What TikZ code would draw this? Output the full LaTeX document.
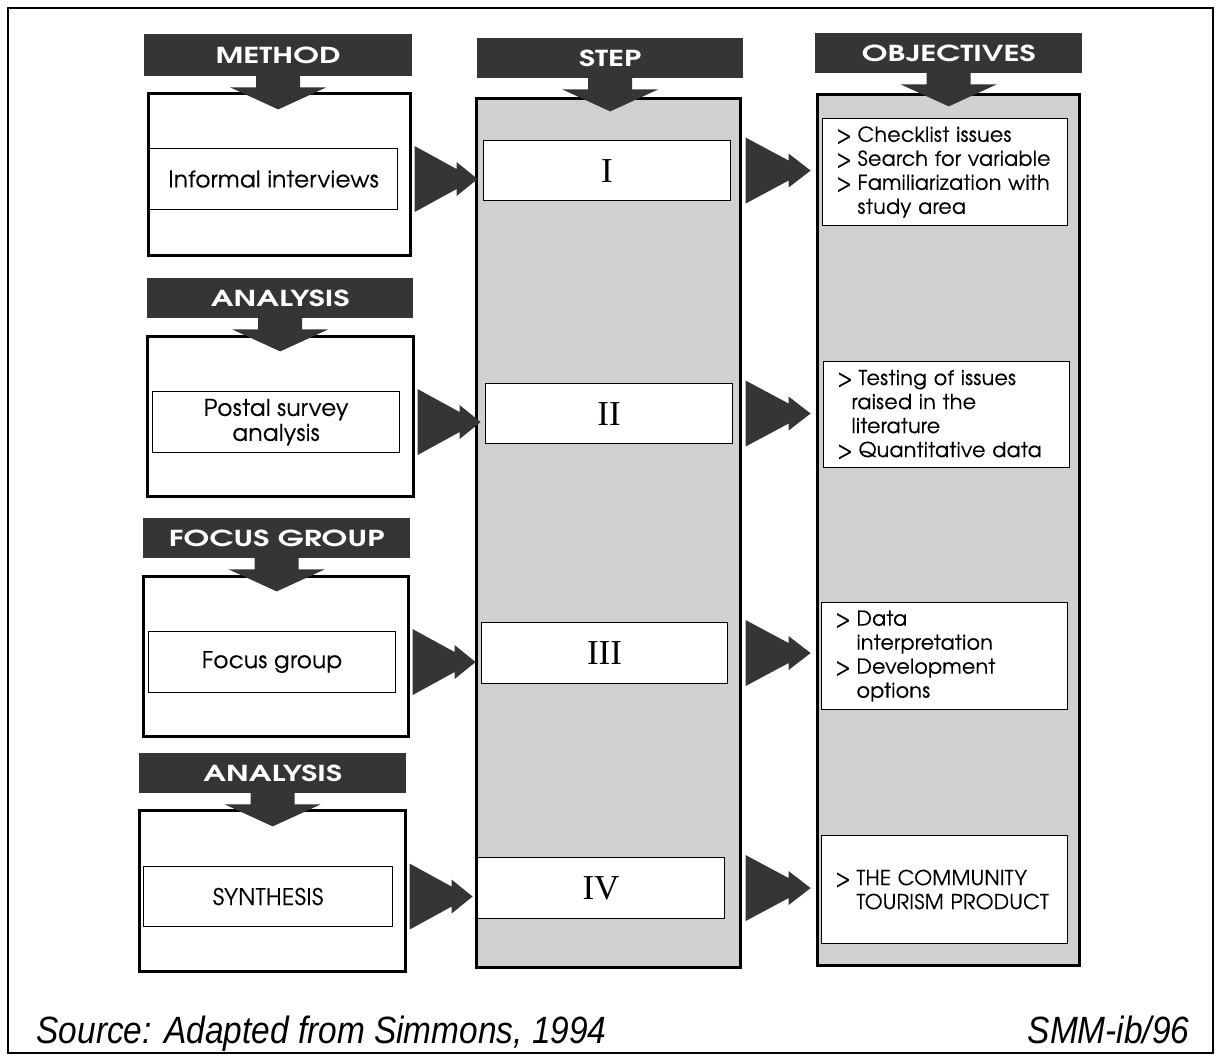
\documentclass[tikz,border=0pt]{standalone}
\usepackage{fontspec}
\usepackage{graphicx}
\usetikzlibrary{calc}
\newfontfamily\gothic{texgyreadventor}[Extension=.otf, UprightFont=*-regular, BoldFont=*-bold, FakeBold=0.35, LetterSpace=1.5]
\newfontfamily\hdfont{texgyreadventor}[Extension=.otf, UprightFont=*-bold, FakeStretch=1.4]
\newfontfamily\romfont{Liberation Serif}
\newfontfamily\capfont{Liberation Sans}
\definecolor{dk}{HTML}{353535}
\definecolor{shade}{HTML}{D0D0D0}
\newcommand\itm{\makebox[21pt][l]{>}}
\newcommand\cont{\hspace*{21pt}}
\begin{document}
\begin{tikzpicture}[x=1pt,y=-1pt,
  hdr/.style={fill=dk, inner sep=0pt, text=white, anchor=north west, font=\hdfont\fontsize{22}{26}\selectfont},
  outerbox/.style={draw=black, line width=2.6pt, fill=white, inner sep=0pt, anchor=north west},
  shadebox/.style={outerbox, fill=shade},
  innerbox/.style={draw=black, line width=1.1pt, fill=white, inner sep=0pt, anchor=north west, align=center, font=\gothic\fontsize{23}{25}\selectfont},
  romanbox/.style={innerbox, font=\romfont\fontsize{35}{36}\selectfont},
  objbox/.style={draw=black, line width=1.1pt, fill=white, inner ysep=0pt, inner xsep=14pt, anchor=north west, align=left, font=\gothic\fontsize{20.5}{24}\selectfont},
  arrowfill/.style={fill=dk},
  caption/.style={font=\capfont\itshape\fontsize{38}{40}\selectfont}
]
\useasboundingbox (0,0) rectangle (1218,1056);
\draw[line width=1.5pt] (8,8) rectangle (1213,1053);

% outer boxes
\node[outerbox, minimum width=262pt, minimum height=162pt] (B1) at (147,92) {};
\node[outerbox, minimum width=266pt, minimum height=160pt] (B2) at (146,335) {};
\node[outerbox, minimum width=265pt, minimum height=160pt] (B3) at (142,575) {};
\node[outerbox, minimum width=266pt, minimum height=161pt] (B4) at (138,809) {};
\node[shadebox, minimum width=264pt, minimum height=869pt] (BS) at (475,97) {};
\node[shadebox, minimum width=262pt, minimum height=871pt] (BO) at (816,93) {};

% inner boxes, left
\node[innerbox, minimum width=248pt, minimum height=61pt] (I1) at (149,148) {Informal interviews};
\node[innerbox, minimum width=247pt, minimum height=61pt] (I2) at (152,391) {Postal survey\\analysis};
\node[innerbox, minimum width=247pt, minimum height=61pt] (I3) at (148,631) {Focus group};
\node[innerbox, minimum width=249pt, minimum height=60pt] (I4) at (143,866) {SYNTHESIS};

% inner boxes, step
\node[romanbox, minimum width=247pt, minimum height=60pt] (S1) at (483,140) {I};
\node[romanbox, minimum width=247pt, minimum height=60pt] (S2) at (485,383) {II};
\node[romanbox, minimum width=246pt, minimum height=61pt] (S3) at (481,622) {III};
\node[romanbox, minimum width=247pt, minimum height=61pt] (S4) at (477,857) {IV};

% inner boxes, objectives
\node[objbox, text width=217pt, minimum height=107pt] (O1) at (822,118)
  {\itm Checklist issues\\\itm Search for variable\\\itm Familiarization with\\\cont study area};
\node[objbox, text width=218pt, minimum height=106pt] (O2) at (823,361)
  {\itm Testing of issues\\\hspace*{14pt}raised in the\\\hspace*{14pt}literature\\\itm Quantitative data};
\node[objbox, text width=218pt, minimum height=107pt] (O3) at (821,602)
  {\itm Data\\\cont interpretation\\\itm Development\\\cont options};
\node[objbox, text width=218pt, minimum height=108pt] (O4) at (821,835)
  {\itm THE COMMUNITY\\\cont TOURISM PRODUCT};

% headers
\node[hdr, minimum width=268pt, minimum height=42pt] (H1) at (144,34) {METHOD};
\node[hdr, minimum width=266pt, minimum height=40pt] (H2) at (147,278) {ANALYSIS};
\node[hdr, minimum width=267pt, minimum height=40pt] (H3) at (143,518) {FOCUS GROUP};
\node[hdr, minimum width=267pt, minimum height=40pt] (H4) at (139,753) {ANALYSIS};
\node[hdr, minimum width=266pt, minimum height=40pt] (HS) at (477,38) {STEP};
\node[hdr, minimum width=267pt, minimum height=40pt] (HO) at (815,33) {OBJECTIVES};

% down arrows from headers
\foreach \h in {H1,H2,H3,H4,HS,HO}{
  \fill[arrowfill] ($(\h.south)+(-22,-1)$) -- ++(0,12) -- ++(-26,0) -- ++(48,22)
     -- ++(48,-22) -- ++(-26,0) -- ++(0,-12) -- cycle;
}

% double-headed right arrows
\foreach \b/\i in {B1/I1,B2/I2,B3/I3,B4/I4}{
  \fill[arrowfill] ($(\b.east |- \i.center)+(3,0)$) ++(0,-33) -- ++(42,23) -- ++(0,-7)
     -- ++(21,17) -- ++(-21,17) -- ++(0,-7) -- ++(-42,23) -- cycle;
}
\foreach \i in {S1,S2,S3,S4}{
  \fill[arrowfill] ($(BS.east |- \i.center)+(4,0)$) ++(0,-33) -- ++(43,23) -- ++(0,-7)
     -- ++(22,17) -- ++(-22,17) -- ++(0,-7) -- ++(-43,23) -- cycle;
}

% caption
\node[caption, anchor=base west] (src) at (33,1043) {\scalebox{0.88}[1]{Source: Adapted from Simmons, 1994}};
\node[caption, anchor=base east] (ref) at (1193,1043) {\scalebox{0.88}[1]{SMM-ib/96}};
\end{tikzpicture}
\end{document}
